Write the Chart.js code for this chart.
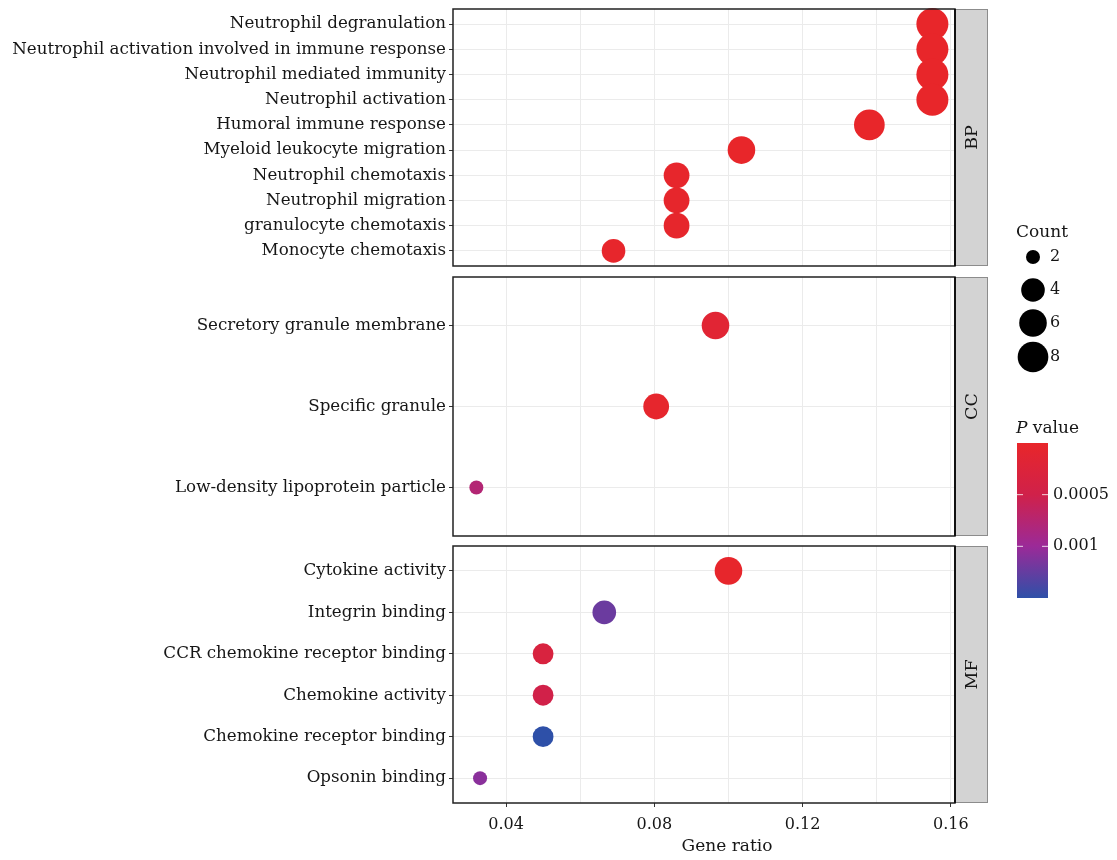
<!DOCTYPE html>
<html>
<head>
<meta charset="utf-8">
<title>GO enrichment</title>
<script src="https://cdn.jsdelivr.net/npm/chart.js@4.4.1/dist/chart.umd.min.js"></script>
<style>
  html, body { margin: 0; padding: 0; background: #ffffff; }
  #wrap { position: relative; width: 1117px; height: 860px; overflow: hidden; }
  #wrap canvas { position: absolute; left: 0; }
</style>
</head>
<body>
<div id="wrap">
  <canvas id="bp" width="1117" height="272" style="top:0px"></canvas>
  <canvas id="cc" width="1117" height="420" style="top:200px"></canvas>
  <canvas id="mf" width="1117" height="320" style="top:540px"></canvas>
</div>
<script>
// ---- Biological process ----
const bpTerms = [
  'Neutrophil degranulation',
  'Neutrophil activation involved in immune response',
  'Neutrophil mediated immunity',
  'Neutrophil activation',
  'Humoral immune response',
  'Myeloid leukocyte migration',
  'Neutrophil chemotaxis',
  'Neutrophil migration',
  'granulocyte chemotaxis',
  'Monocyte chemotaxis'
];
const bpRatio  = [0.155, 0.155, 0.155, 0.155, 0.138, 0.1035, 0.086, 0.086, 0.086, 0.069];
const bpCount  = [9, 9, 9, 9, 8, 6, 5, 5, 5, 4];
const bpPvalue = [1.2e-8, 1.2e-8, 1.4e-8, 1.9e-8, 2.1e-6, 4.3e-6, 3.0e-5, 3.4e-5, 3.6e-5, 2.8e-5];

// ---- Cellular component ----
const ccTerms  = ['Secretory granule membrane', 'Specific granule', 'Low-density lipoprotein particle'];
const ccRatio  = [0.0965, 0.0805, 0.032];
const ccCount  = [6, 5, 2];
const ccPvalue = [1.5e-4, 4.0e-5, 7.7e-4];

// ---- Molecular function ----
const mfTerms  = [
  'Cytokine activity',
  'Integrin binding',
  'CCR chemokine receptor binding',
  'Chemokine activity',
  'Chemokine receptor binding',
  'Opsonin binding'
];
const mfRatio  = [0.100, 0.0665, 0.050, 0.050, 0.050, 0.033];
const mfCount  = [6, 4, 3, 3, 3, 2];
const mfPvalue = [3.0e-5, 1.22e-3, 3.3e-4, 4.8e-4, 1.5e-3, 1.08e-3];

// ---- Axes and legend breaks ----
const xGridTicks  = [0.04, 0.06, 0.08, 0.10, 0.12, 0.14, 0.16];
const xLabelTicks = [0.04, 0.08, 0.12, 0.16];
const xRange      = [0.0257, 0.1611];
const countBreaks = [2, 4, 6, 8];
const countRange  = [2, 9];
const pBreaks     = [0.0005, 0.001];
const pRange      = [0, 0.0015];

// ---- Styling ----
const FONT_FAMILY = "'DejaVu Serif', 'Liberation Serif', serif";
const TEXT_COLOR = '#161616';
const GRID_COLOR = '#ebebeb';
const RADIUS_RANGE = [7, 16];
// colour ramp from low p (red) to high p (blue)
const rampStops = [
  [0,     [232, 38, 42]],
  [1 / 3, [208, 33, 74]],
  [2 / 3, [155, 42, 152]],
  [1,     [46, 80, 168]]
];

function rampColor(t) {
  t = Math.max(0, Math.min(1, t));
  for (let i = 1; i < rampStops.length; i++) {
    const [t1, c1] = rampStops[i];
    const [t0, c0] = rampStops[i - 1];
    if (t <= t1) {
      const f = (t - t0) / (t1 - t0);
      const c = c0.map((v, k) => Math.round(v + (c1[k] - v) * f));
      return `rgb(${c[0]},${c[1]},${c[2]})`;
    }
  }
  const c = rampStops[rampStops.length - 1][1];
  return `rgb(${c[0]},${c[1]},${c[2]})`;
}
function pColor(p) {
  return rampColor((p - pRange[0]) / (pRange[1] - pRange[0]));
}
function countRadius(n) {
  const f = Math.max(0, (n - countRange[0]) / (countRange[1] - countRange[0]));
  return RADIUS_RANGE[0] + (RADIUS_RANGE[1] - RADIUS_RANGE[0]) * Math.sqrt(f);
}

// Panel frame and facet strip on the right
const panelFrame = {
  id: 'panelFrame',
  afterDraw(chart, args, opts) {
    const { ctx, chartArea: a } = chart;
    ctx.save();
    // strip
    const sx = a.right, sw = 33;
    ctx.fillStyle = '#d3d3d3';
    ctx.fillRect(sx, a.top, sw, a.bottom - a.top);
    ctx.strokeStyle = '#8c8c8c';
    ctx.lineWidth = 1;
    ctx.strokeRect(sx + 0.5, a.top + 0.5, sw - 1, a.bottom - a.top - 1);
    ctx.fillStyle = TEXT_COLOR;
    ctx.font = `17.5px ${FONT_FAMILY}`;
    ctx.textAlign = 'center';
    ctx.textBaseline = 'middle';
    ctx.translate(sx + sw / 2 + 1, (a.top + a.bottom) / 2);
    ctx.rotate(-Math.PI / 2);
    ctx.fillText(opts.label, 0, 0);
    ctx.setTransform(1, 0, 0, 1, 0, 0);
    // panel border
    ctx.strokeStyle = '#222222';
    ctx.lineWidth = 1.5;
    ctx.strokeRect(a.left, a.top, a.right - a.left, a.bottom - a.top);
    ctx.lineWidth = 2;
    ctx.strokeStyle = '#111111';
    ctx.beginPath();
    ctx.moveTo(a.right, a.top);
    ctx.lineTo(a.right, a.bottom);
    ctx.stroke();
    ctx.restore();
  }
};

// x axis title under the bottom panel
const axisTitle = {
  id: 'axisTitle',
  afterDraw(chart, args, opts) {
    if (!opts.text) return;
    const { ctx } = chart;
    ctx.save();
    ctx.fillStyle = TEXT_COLOR;
    ctx.font = `17px ${FONT_FAMILY}`;
    ctx.textAlign = 'center';
    ctx.textBaseline = 'middle';
    ctx.fillText(opts.text, opts.x, opts.y);
    ctx.restore();
  }
};

// Count and P value guides
const guides = {
  id: 'guides',
  afterDraw(chart, args, opts) {
    if (!opts.show) return;
    const { ctx } = chart;
    const oy = opts.offsetY;
    ctx.save();
    ctx.fillStyle = TEXT_COLOR;
    ctx.textBaseline = 'middle';
    ctx.textAlign = 'left';
    ctx.font = `17px ${FONT_FAMILY}`;
    ctx.fillText('Count', 1016, 233 - oy);
    const keyY = [257, 290, 323, 357];
    ctx.font = `16px ${FONT_FAMILY}`;
    countBreaks.forEach((n, i) => {
      ctx.fillStyle = '#000000';
      ctx.beginPath();
      ctx.arc(1033, keyY[i] - oy, countRadius(n), 0, Math.PI * 2);
      ctx.fill();
      ctx.fillStyle = TEXT_COLOR;
      ctx.fillText(String(n), 1050, keyY[i] - oy);
    });

    // P value title: italic P
    ctx.font = `italic 17px ${FONT_FAMILY}`;
    ctx.fillText('P', 1016, 429 - oy);
    const pw = ctx.measureText('P ').width;
    ctx.font = `17px ${FONT_FAMILY}`;
    ctx.fillText('value', 1016 + pw, 429 - oy);

    // colour bar
    const bx = 1017, bw = 31, by = 443 - oy, bh = 155;
    const grad = ctx.createLinearGradient(0, by, 0, by + bh);
    rampStops.forEach(([t, c]) => grad.addColorStop(t, `rgb(${c[0]},${c[1]},${c[2]})`));
    ctx.fillStyle = grad;
    ctx.fillRect(bx, by, bw, bh);
    ctx.font = `16px ${FONT_FAMILY}`;
    pBreaks.forEach(p => {
      const y = by + (p - pRange[0]) / (pRange[1] - pRange[0]) * bh;
      ctx.strokeStyle = 'rgba(255,255,255,0.8)';
      ctx.lineWidth = 1;
      ctx.beginPath();
      ctx.moveTo(bx, y); ctx.lineTo(bx + 6, y);
      ctx.moveTo(bx + bw - 6, y); ctx.lineTo(bx + bw, y);
      ctx.stroke();
      ctx.fillStyle = TEXT_COLOR;
      ctx.fillText(String(p), 1053, y);
    });
    ctx.restore();
  }
};

function makePanel(id, terms, ratio, count, pval, strip, padTop, padBottom, bottomAxis, extra) {
  const points = terms.map((t, i) => ({ x: ratio[i], y: i, r: countRadius(count[i]) }));
  return new Chart(document.getElementById(id), {
    type: 'bubble',
    data: {
      datasets: [{
        data: points,
        backgroundColor: pval.map(pColor),
        borderWidth: 0,
        hoverRadius: 0,
        clip: false
      }]
    },
    options: {
      responsive: false,
      animation: false,
      devicePixelRatio: 1,
      events: [],
      layout: {
        autoPadding: false,
        padding: { left: 0, right: 1117 - 955, top: padTop, bottom: padBottom }
      },
      plugins: {
        legend: { display: false },
        tooltip: { enabled: false },
        panelFrame: { label: strip },
        axisTitle: extra.title || {},
        guides: extra.guides || { show: false }
      },
      scales: {
        x: {
          type: 'linear',
          min: xRange[0],
          max: xRange[1],
          afterBuildTicks: s => { s.ticks = xGridTicks.map(v => ({ value: v })); },
          afterFit: s => {
            s.height = bottomAxis ? 57 : 0;
            s.paddingLeft = 0; s.paddingRight = 0;
          },
          border: { display: false },
          grid: {
            color: GRID_COLOR,
            lineWidth: 1,
            drawTicks: bottomAxis,
            tickLength: 4,
            tickColor: c => (c.tick && xLabelTicks.some(v => Math.abs(v - c.tick.value) < 1e-9)) ? '#333333' : 'rgba(0,0,0,0)'
          },
          ticks: {
            display: bottomAxis,
            autoSkip: false,
            maxRotation: 0,
            padding: 8,
            color: TEXT_COLOR,
            font: { family: FONT_FAMILY, size: 16 },
            callback: v => xLabelTicks.some(t => Math.abs(t - v) < 1e-9) ? String(Number(v.toFixed(2))) : ''
          }
        },
        y: {
          type: 'linear',
          reverse: true,
          min: -0.6,
          max: terms.length - 1 + 0.6,
          afterBuildTicks: s => { s.ticks = terms.map((t, i) => ({ value: i })); },
          afterFit: s => {
            s.width = 453;
            s.paddingTop = 0; s.paddingBottom = 0;
          },
          border: { display: false },
          grid: { color: GRID_COLOR, lineWidth: 1, drawTicks: true, tickLength: 4, tickColor: '#333333' },
          ticks: {
            autoSkip: false,
            padding: 3,
            color: TEXT_COLOR,
            font: { family: FONT_FAMILY, size: 16.7 },
            callback: v => terms[v]
          }
        }
      }
    },
    plugins: [panelFrame, axisTitle, guides]
  });
}

makePanel('bp', bpTerms, bpRatio, bpCount, bpPvalue, 'BP', 9, 6, false, {});
makePanel('cc', ccTerms, ccRatio, ccCount, ccPvalue, 'CC', 77, 84, false, { guides: { show: true, offsetY: 200 } });
makePanel('mf', mfTerms, mfRatio, mfCount, mfPvalue, 'MF', 6, 0, true, { title: { text: 'Gene ratio', x: 727, y: 307 } });
</script>
</body>
</html>
